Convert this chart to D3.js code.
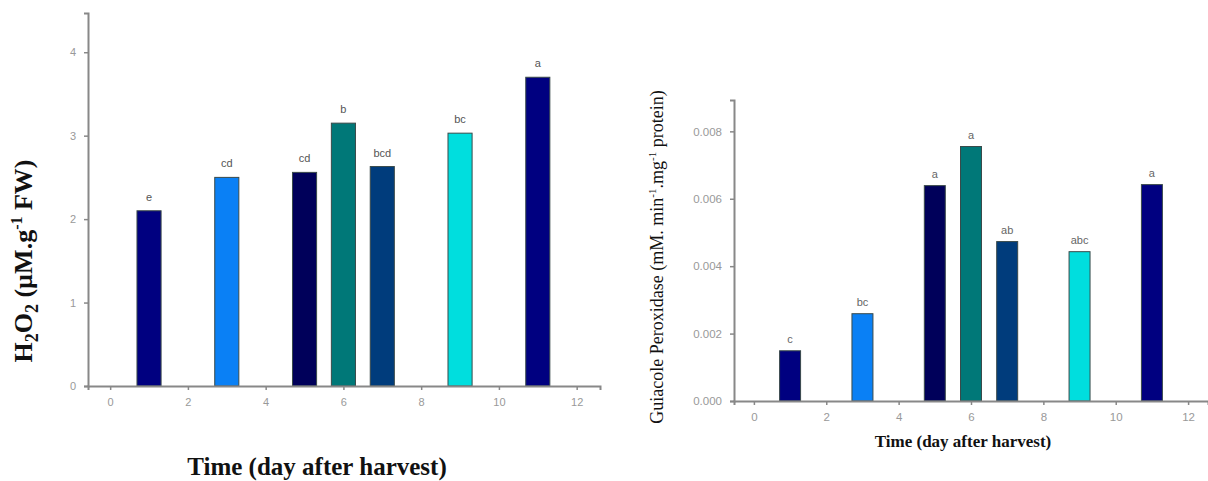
<!DOCTYPE html>
<html><head><meta charset="utf-8">
<script src="https://cdn.jsdelivr.net/npm/d3@7"></script>
<style>body{margin:0;background:#fff}svg{display:block}</style>
</head><body>
<svg id="c" width="1208" height="481"></svg>
<script>
const days = [1, 3, 5, 6, 7, 9, 11];
const barColors = ["#000080", "#0a80f5", "#00005a", "#007878", "#003c7c", "#00dede", "#000080"];
const h2o2 = [2.10, 2.50, 2.56, 3.15, 2.63, 3.03, 3.70];
const h2o2Letters = ["e", "cd", "cd", "b", "bcd", "bc", "a"];
const gpx = [0.00149, 0.00259, 0.00639, 0.00755, 0.00473, 0.00443, 0.00642];
const gpxLetters = ["c", "bc", "a", "a", "ab", "abc", "a"];
const xTicks = [0, 2, 4, 6, 8, 10, 12];
const h2o2Ticks = [0, 1, 2, 3, 4];
const gpxTicks = [0, 0.002, 0.004, 0.006, 0.008];

const svg = d3.select("#c");

function panel(o) {
  const g = svg.append("g");
  const x = d3.scaleLinear().domain(o.xDom).range(o.xRange);
  const y = d3.scaleLinear().domain(o.yDom).range(o.yRange);
  const bw = x(o.barW) - x(0);
  g.selectAll("rect.bar").data(o.values).join("rect")
    .attr("x", (d, i) => x(days[i]) - bw / 2)
    .attr("y", d => y(d))
    .attr("width", bw)
    .attr("height", d => y(0) - y(d))
    .attr("fill", (d, i) => barColors[i])
    .attr("stroke", "#3a4a4a").attr("stroke-width", 1);
  g.selectAll("text.lt").data(o.values).join("text")
    .attr("x", (d, i) => x(days[i]))
    .attr("y", d => y(d) - o.letterGap)
    .attr("text-anchor", "middle")
    .attr("font-family", "Liberation Sans, Arial, sans-serif")
    .attr("font-size", o.letterSize)
    .attr("fill", o.letterColor)
    .text((d, i) => o.letters[i]);
  const ya = d3.axisLeft(y).tickValues(o.yTicks).tickSize(4).tickPadding(8).tickFormat(o.yFmt);
  const yg = g.append("g").attr("transform", `translate(${x(o.xDom[0])},0)`).call(ya);
  const xa = d3.axisBottom(x).tickValues(xTicks).tickSize(4).tickPadding(8).tickFormat(d3.format("d"));
  const xg = g.append("g").attr("transform", `translate(0,${y(0)})`).call(xa);
  [yg, xg].forEach(a => {
    a.select(".domain").attr("stroke", "#888").attr("stroke-width", 2);
    a.selectAll(".tick line").attr("stroke", "#888").attr("stroke-width", 1.5);
    a.selectAll(".tick text").attr("fill", "#999").attr("font-size", o.tickSize)
      .attr("font-family", "Liberation Sans, Arial, sans-serif");
  });
}

panel({
  xDom: [-0.57, 12.6], xRange: [88, 600],
  yDom: [0, 4.47], yRange: [386, 13],
  barW: 0.62, values: h2o2, letters: h2o2Letters,
  yTicks: h2o2Ticks, yFmt: d3.format("d"),
  tickSize: 11, letterSize: 11, letterGap: 10, letterColor: "#555"
});
panel({
  xDom: [-0.55, 12.55], xRange: [734, 1208],
  yDom: [0, 0.00893], yRange: [401, 100],
  barW: 0.58, values: gpx, letters: gpxLetters,
  yTicks: gpxTicks, yFmt: d3.format(".3f"),
  tickSize: 11.5, letterSize: 11, letterGap: 8, letterColor: "#666"
});

// Left axis titles
const lt = svg.append("text")
  .attr("transform", "translate(32,261) rotate(-90)")
  .attr("text-anchor", "middle")
  .attr("font-family", "Liberation Serif, Times New Roman, serif")
  .attr("font-weight", "bold").attr("font-size", 26).attr("fill", "#111");
lt.append("tspan").text("H");
lt.append("tspan").attr("font-size", 18).attr("dy", 6).text("2");
lt.append("tspan").attr("dy", -6).text("O");
lt.append("tspan").attr("font-size", 18).attr("dy", 6).text("2");
lt.append("tspan").attr("dy", -6).text(" (µM.g");
lt.append("tspan").attr("font-size", 16).attr("dy", -10).text("-1");
lt.append("tspan").attr("dy", 10).text(" FW)");

svg.append("text")
  .attr("x", 317).attr("y", 475)
  .attr("text-anchor", "middle")
  .attr("font-family", "Liberation Serif, Times New Roman, serif")
  .attr("font-weight", "bold").attr("font-size", 25).attr("fill", "#111")
  .text("Time (day after harvest)");

// Right axis titles
const rt = svg.append("text")
  .attr("transform", "translate(663,257) rotate(-90)")
  .attr("text-anchor", "middle")
  .attr("font-family", "Liberation Serif, Times New Roman, serif")
  .attr("font-size", 18).attr("fill", "#111");
rt.append("tspan").text("Guiacole Peroxidase (mM. min");
rt.append("tspan").attr("font-size", 11).attr("dy", -7).text("-1");
rt.append("tspan").attr("dy", 7).text(".mg");
rt.append("tspan").attr("font-size", 11).attr("dy", -7).text("-1");
rt.append("tspan").attr("dy", 7).text(" protein)");

svg.append("text")
  .attr("x", 963).attr("y", 447)
  .attr("text-anchor", "middle")
  .attr("font-family", "Liberation Serif, Times New Roman, serif")
  .attr("font-weight", "bold").attr("font-size", 17).attr("fill", "#111")
  .text("Time (day after harvest)");
</script>
</body></html>
